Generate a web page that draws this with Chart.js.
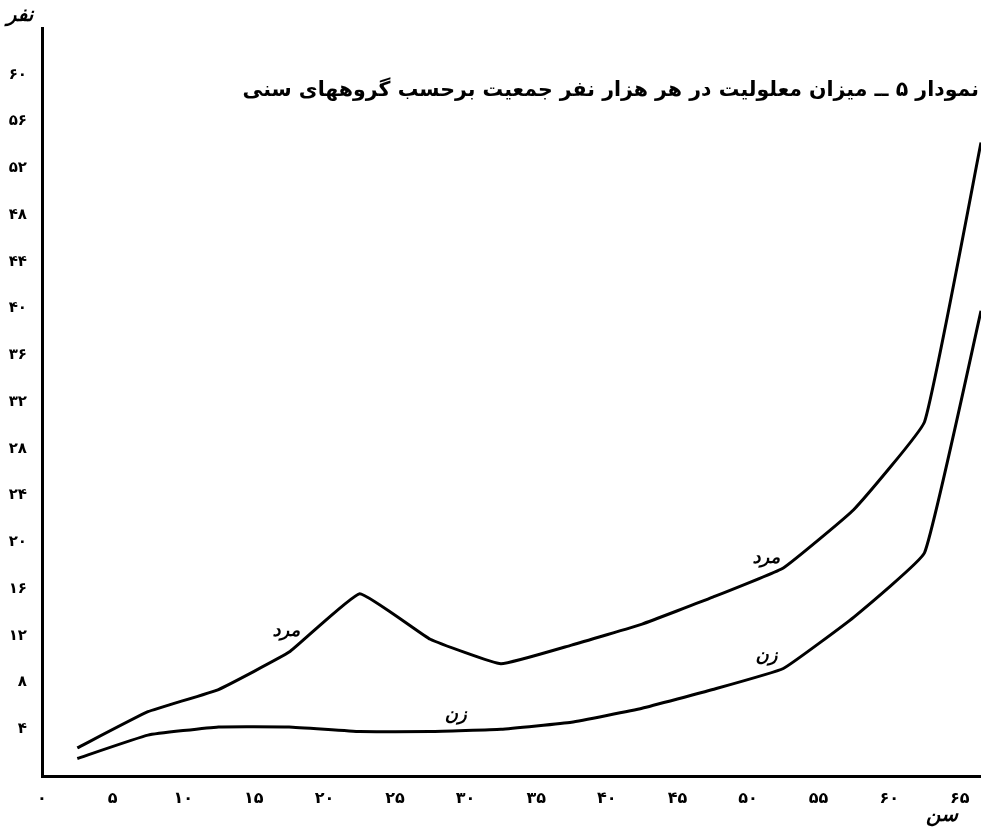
<!DOCTYPE html>
<html>
<head>
<meta charset="utf-8">
<script src="https://cdn.jsdelivr.net/npm/chart.js@4.4.0/dist/chart.umd.min.js"></script>
<style>
html,body{margin:0;padding:0;background:#fff;}
#wrap{position:relative;width:981px;height:831px;}
#title{position:absolute;right:2px;top:77px;direction:rtl;font-family:"DejaVu Sans",sans-serif;font-weight:bold;font-size:20.5px;color:#000;white-space:nowrap;}
</style>
</head>
<body>
<div id="wrap">
<canvas id="disabilityChart" width="981" height="831"></canvas>
<div id="title">نمودار ۵ ــ میزان معلولیت در هر هزار نفر جمعیت برحسب گروههای سنی</div>
</div>
<script>

// age group midpoints (years)
const ages = [2.5, 7.5, 12.5, 17.5, 22.5, 27.5, 32.5, 37.5, 42.5, 47.5, 52.5, 57.5, 62.5, 66.5]

// per thousand people
const men = [2.4, 5.5, 7.4, 10.6, 15.6, 11.7, 9.6, 11.2, 13.0, 15.3, 17.8, 22.8, 30.3, 54.2]
const women = [1.5, 3.5, 4.2, 4.2, 3.8, 3.8, 4.0, 4.6, 5.8, 7.4, 9.2, 13.6, 19.1, 39.8]

const xTicks = [0, 5, 10, 15, 20, 25, 30, 35, 40, 45, 50, 55, 60, 65]
const xTickLabels = ["۰", "۵", "۱۰", "۱۵", "۲۰", "۲۵", "۳۰", "۳۵", "۴۰", "۴۵", "۵۰", "۵۵", "۶۰", "۶۵"]
const yTicks = [4, 8, 12, 16, 20, 24, 28, 32, 36, 40, 44, 48, 52, 56, 60]
const yTickLabels = ["۴", "۸", "۱۲", "۱۶", "۲۰", "۲۴", "۲۸", "۳۲", "۳۶", "۴۰", "۴۴", "۴۸", "۵۲", "۵۶", "۶۰"]

// names written beside the lines
const lineLabels = [
{text:"مرد", age:17.3, value:12.4},
{text:"مرد", age:51.3, value:18.6},
{text:"زن", age:29.3, value:5.2},
{text:"زن", age:51.3, value:10.2}
]

const persianFont = '"DejaVu Sans", sans-serif'

const textPlugin = {
id:"textPlugin",
afterDatasetsDraw(chart){
const ctx = chart.ctx
const xs = chart.scales.x
const ys = chart.scales.y
ctx.save()
ctx.fillStyle = "#000"
ctx.textAlign = "center"
ctx.textBaseline = "middle"
ctx.font = "italic bold 18px " + persianFont
lineLabels.forEach(l => {
ctx.fillText(l.text, xs.getPixelForValue(l.age), ys.getPixelForValue(l.value))
})
// axis titles
ctx.font = "italic bold 20px " + persianFont
ctx.fillText("نفر", 20, 16)
ctx.fillText("سن", 942, 816)
ctx.restore()
}
}

const ctx = document.getElementById("disabilityChart")

new Chart(ctx,{
type:"line",
data:{
datasets:[
{
label:"مرد",
data:ages.map((a,i) => ({x:a, y:men[i]})),
borderColor:"#000",
borderWidth:3,
pointRadius:0,
tension:0.1,
fill:false
},
{
label:"زن",
data:ages.map((a,i) => ({x:a, y:women[i]})),
borderColor:"#000",
borderWidth:3,
pointRadius:0,
tension:0.1,
fill:false
}
]
},
options:{
responsive:false,
animation:false,
layout:{padding:{top:28, right:0, left:0, bottom:0}},
plugins:{
legend:{display:false},
tooltip:{enabled:false}
},
scales:{
x:{
type:"linear",
min:0,
max:66.5,
afterBuildTicks(scale){
scale.ticks = xTicks.map(v => ({value:v}))
},
afterFit(scale){
scale.height = 55
},
grid:{display:false},
border:{display:true, color:"#000", width:3},
ticks:{
color:"#000",
padding:5,
maxRotation:0,
autoSkip:false,
font:{family:persianFont, weight:"bold", size:16},
callback:(v) => xTickLabels[xTicks.indexOf(v)]
}
},
y:{
type:"linear",
min:0,
max:64,
afterBuildTicks(scale){
scale.ticks = yTicks.map(v => ({value:v}))
},
afterFit(scale){
scale.width = 42
},
grid:{display:false},
border:{display:true, color:"#000", width:3},
ticks:{
color:"#000",
padding:7,
autoSkip:false,
font:{family:persianFont, weight:"bold", size:15},
callback:(v) => yTickLabels[yTicks.indexOf(v)]
}
}
}
},
plugins:[textPlugin]
})

</script>
</body>
</html>
